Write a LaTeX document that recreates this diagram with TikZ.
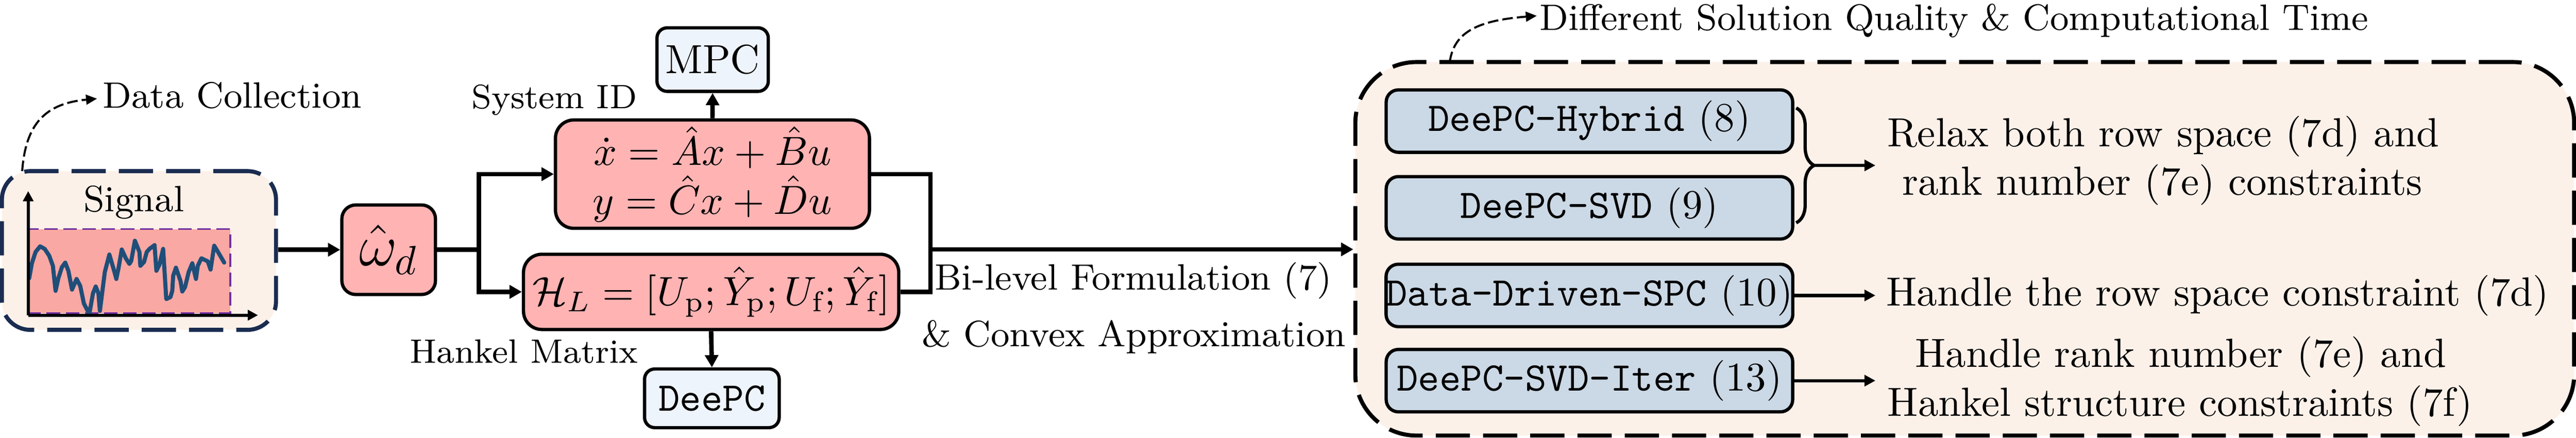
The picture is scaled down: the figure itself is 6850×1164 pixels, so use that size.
\documentclass[tikz,border=0pt]{standalone}
\usepackage{fontspec}
\usetikzlibrary{arrows.meta,decorations.pathreplacing,calc}
\definecolor{cream}{HTML}{FCF1E9}
\definecolor{navy}{HTML}{1A2C50}
\definecolor{pinkbox}{HTML}{FFB3B3}
\definecolor{pinksig}{HTML}{FAA8A3}
\definecolor{purp}{HTML}{7030A0}
\definecolor{sigline}{HTML}{1F4E79}
\definecolor{paleblue}{HTML}{EEF4FB}
\definecolor{grayblue}{HTML}{CBD8E5}
\newcommand\pxu{0.092336pt}
\begin{document}
\begin{tikzpicture}[x=0.092336pt,y=-0.092336pt,
  conn/.style={line width=1.1pt,-{Triangle[length=3pt,width=3.2pt]}},
  connl/.style={line width=1.1pt},
  thinarrow/.style={line width=0.8pt,-{Triangle[length=2.7pt,width=2.7pt]}},
  dasharrow/.style={line width=0.5pt,dash pattern=on 2.6pt off 1pt,-{Triangle[length=2.7pt,width=2.4pt]}},
  axisarrow/.style={line width=0.8pt,-{Triangle[length=2.5pt,width=2.5pt]}},
  dframe/.style={fill=cream,line width=1pt,dash pattern=on 8.4pt off 3.2pt,inner sep=0pt},
  pinknode/.style={draw=black,line width=0.8pt,fill=pinkbox,inner sep=0pt},
  bluenode/.style={draw=black,line width=0.8pt,fill=paleblue,inner sep=0pt,rounded corners=2.5pt},
  innerbox/.style={draw=black,line width=0.8pt,fill=grayblue,inner sep=0pt,rounded corners=3pt,
    minimum width=1081*\pxu,minimum height=166*\pxu},
  lab9/.style={font=\fontsize{9}{11}\selectfont,inner sep=0pt},
  lab8/.style={font=\fontsize{8.3}{10}\selectfont,inner sep=0pt},
  lab10/.style={inner sep=0pt}
]
\useasboundingbox (0,0) rectangle (6850,1164);

% ---- Signal block
\node[dframe,draw=navy,rounded corners=7pt,minimum width=729*\pxu,minimum height=422*\pxu] (sigbox) at (369.5,666) {};
\node[draw=purp,fill=pinksig,line width=0.45pt,dash pattern=on 3.3pt off 1.4pt,inner sep=0pt,
  minimum width=539*\pxu,minimum height=224*\pxu] (sigrect) at (342.5,721) {};
\draw[sigline,line width=1pt,line join=round,line cap=round] plot coordinates {
 (77.6,740) (84.8,700) (94.5,670) (106.6,655) (118.8,661.7) (130.9,680) (140.6,706.7)
 (147.8,773.3) (155.1,740) (164.8,710) (173.5,698.3) (181.8,720) (191.5,770) (203.6,741.7)
 (213.3,760) (223,806.7) (237.5,835) (247.2,780) (254.5,761.7) (261.8,780) (265.6,826.7)
 (278.7,723.3) (290.8,676.7) (305.4,726.7) (309.3,741.7) (315.1,713.3) (323.8,663.3)
 (334.5,686.7) (344.2,701.7) (349,693.3) (358.7,640) (370.8,670) (373.2,706.7) (382.9,696.7)
 (390.2,670) (397.5,661.7) (411,651.7) (414.4,700) (415.9,720) (424.1,703.3) (433.8,661.7)
 (438.7,740) (442.1,795) (453.2,790) (458.1,773.3) (460.5,733.3) (467.8,711.7) (479.9,746.7)
 (484.7,775) (492,763.3) (501.7,723.3) (511.4,700) (521.1,741.7) (525.9,706.7) (535.6,686.7)
 (552.6,695) (559.9,716.7) (569.6,653.3) (581.7,673.3) (596.2,698.3)};
\coordinate (origin) at (75,838);
\coordinate (yaxis) at (75,508);
\coordinate (xaxis) at (686,838);
\draw[axisarrow] (origin) -- (yaxis);
\draw[axisarrow] (origin) -- (xaxis);
\node[lab9,anchor=base] (sigtext) at (356,563) {Signal};

\node[lab9,anchor=base west] (dctext) at (271,287) {Data Collection};
\coordinate (dcstart) at (59,455);
\draw[dasharrow] (dcstart) .. controls (68,330) and (120,275) .. ([xshift=-1.2pt,yshift=-0.8pt]dctext.west);

% ---- omega
\node[pinknode,rounded corners=3.4pt,minimum width=249*\pxu,minimum height=238*\pxu] (omega) at (1033.5,664) {\Large$\hat{\omega}_d$};
\draw[conn] (sigbox.east |- omega.west) -- (omega.west);

% ---- System ID and Hankel
\node[pinknode,rounded corners=4.5pt,minimum width=835*\pxu,minimum height=288*\pxu,align=center] (sysid) at (1894.5,463)
  {$\dot{x}=\hat{A}x+\hat{B}u$\\$y=\hat{C}x+\hat{D}u$};
\node[pinknode,rounded corners=4.5pt,minimum width=998*\pxu,minimum height=200*\pxu] (hankel) at (1891,776)
  {$\mathcal{H}_L=[U_{\mathrm{p}};\hat{Y}_{\mathrm{p}};U_{\mathrm{f}};\hat{Y}_{\mathrm{f}}]$};
\coordinate (j1) at (1273,664);
\draw[connl] (omega.east) -- (j1);
\draw[conn] (j1) |- (sysid.west);
\draw[conn] (j1) |- (hankel.west);

\node[bluenode,minimum width=296*\pxu,minimum height=169*\pxu] (mpc) at (1895,158.5) {MPC};
\node[bluenode,minimum width=358*\pxu,minimum height=156*\pxu] (deepc) at (1893,1059) {\texttt{DeePC}};
\draw[conn] (sysid.north) -- (mpc.south);
\draw[conn] (hankel.south) -- (deepc.north);

\node[lab8,anchor=base] (sysidlab) at (1474,288) {System ID};
\node[lab8,anchor=base] (hanklab) at (1393,965) {Hankel Matrix};

% ---- big frame
\node[dframe,draw=black,rounded corners=15pt,minimum width=3241*\pxu,minimum height=993*\pxu] (big) at (5224.5,661.5) {};

\coordinate (j2) at (2474,663);
\draw[connl] (sysid.east) -| (j2);
\draw[connl] (hankel.east) -| (j2);
\draw[conn] (j2) -- (big.west |- j2);

\node[lab9,anchor=base] (bilevel) at (3014,770) {Bi-level Formulation (7)};
\node[lab9,anchor=base] (convex) at (3015,922) {\& Convex Approximation};

\node[lab9,anchor=base west] (diff) at (4092,80) {Different Solution Quality \& Computational Time};
\coordinate (dfstart) at (3855,165);
\draw[dasharrow] (dfstart) .. controls (3866,90) and (3920,55) .. ([xshift=-0.5pt,yshift=1.2pt]diff.west);

% ---- methods
\node[innerbox] (hyb) at (4226.5,322) {\texttt{DeePC-Hybrid} (8)};
\node[innerbox] (svd) at (4226.5,552.5) {\texttt{DeePC-SVD} (9)};
\node[innerbox] (spc) at (4226.5,785.5) {\texttt{Data-Driven-SPC} (10)};
\node[innerbox] (iter) at (4226.5,1012) {\texttt{DeePC-SVD-Iter} (13)};

\coordinate (btop) at ($(hyb.east)+(5,-35)$);
\coordinate (bbot) at ($(svd.east)+(5,40)$);
\coordinate (btip) at ($(btop)!0.5!(bbot)+(48,0)$);
\draw[line width=0.8pt,decorate,decoration={brace,amplitude=4.4pt}] (btop) -- (bbot);

\coordinate (aend) at (4987,0);
\draw[thinarrow] (btip) -- (btip -| aend);
\draw[thinarrow] (spc.east) -- (spc.east -| aend);
\draw[thinarrow] (iter.east) -- (iter.east -| aend);

\node[lab10,anchor=base] (relaxa) at (5753,390) {Relax both row space (7d) and};
\node[lab10,anchor=base] (relaxb) at (5750,518) {rank number (7e) constraints};
\node[lab10,anchor=base west] (handlea) at (5014,813) {Handle the row space constraint (7d)};
\node[lab10,anchor=base] (handleb) at (5799,976) {Handle rank number (7e) and};
\node[lab10,anchor=base] (handlec) at (5797,1106) {Hankel structure constraints (7f)};
\end{tikzpicture}
\end{document}
